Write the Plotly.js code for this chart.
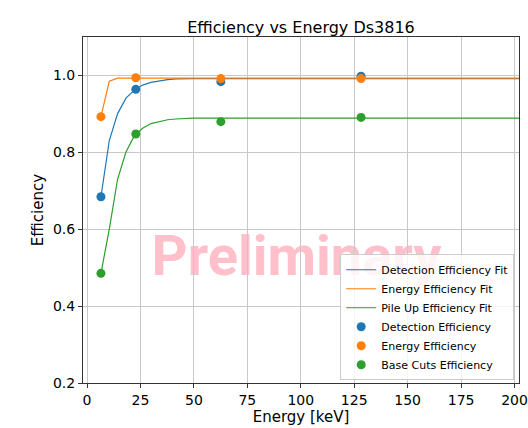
<!DOCTYPE html>
<html>
<head>
<meta charset="utf-8">
<script src="https://cdn.plot.ly/plotly-3.0.1.min.js"></script>
<style>
  html, body { margin: 0; padding: 0; background: #ffffff; }
  #chart { width: 528px; height: 428px; }
</style>
</head>
<body>
<div id="chart"></div>
<script>
// Measured efficiencies at each calibration energy (keV)
const energies = [6.5, 22.8, 62.6, 128.2];
const detectionEff = [0.684, 0.963, 0.983, 0.997];
const energyEff = [0.892, 0.993, 0.991, 0.991];
const baseCutsEff = [0.485, 0.847, 0.879, 0.890];

// Fitted curves, sampled on an energy grid
const fitEnergies = [6.5, 10.4, 14.3, 18.2, 22.1, 26.0, 29.9, 33.8, 37.7, 41.6, 45.5, 49.4,
                     60, 80, 100, 120, 140, 160, 180, 205];
const detectionFit = [0.684, 0.830, 0.900, 0.940, 0.961, 0.974, 0.981, 0.985, 0.988, 0.990, 0.991, 0.991,
                      0.991, 0.991, 0.991, 0.991, 0.991, 0.991, 0.991, 0.991];
const energyFit = [0.892, 0.984, 0.992, 0.992, 0.992, 0.992, 0.992, 0.992, 0.992, 0.992, 0.992, 0.992,
                   0.992, 0.992, 0.992, 0.992, 0.992, 0.992, 0.992, 0.992];
const pileUpFit = [0.485, 0.600, 0.730, 0.800, 0.842, 0.862, 0.874, 0.880, 0.884, 0.886, 0.887, 0.888,
                   0.888, 0.888, 0.888, 0.888, 0.888, 0.888, 0.888, 0.888];

const xTicks = [0, 25, 50, 75, 100, 125, 150, 175, 200];
const yTicks = [0.2, 0.4, 0.6, 0.8, 1.0];
const watermark = 'Preliminary';

const BLUE = '#1f77b4', ORANGE = '#ff7f0e', GREEN = '#2ca02c';
const FONT = 'DejaVu Sans, sans-serif';

const lineTrace = (y, name, color) => ({
  x: fitEnergies, y: y, name: name, type: 'scatter', mode: 'lines',
  line: { color: color, width: 1.2 }, hoverinfo: 'skip'
});
const pointTrace = (y, name, color) => ({
  x: energies, y: y, name: name, type: 'scatter', mode: 'markers',
  marker: { color: color, size: 9, symbol: 'circle' }
});

const data = [
  lineTrace(detectionFit, 'Detection Efficiency Fit', BLUE),
  lineTrace(energyFit, 'Energy Efficiency Fit', ORANGE),
  lineTrace(pileUpFit, 'Pile Up Efficiency Fit', GREEN),
  pointTrace(detectionEff, 'Detection Efficiency', BLUE),
  pointTrace(energyEff, 'Energy Efficiency', ORANGE),
  pointTrace(baseCutsEff, 'Base Cuts Efficiency', GREEN)
];

const axisCommon = {
  showline: true, mirror: true, linecolor: '#333333', linewidth: 1,
  ticks: 'outside', ticklen: 4, tickwidth: 1, tickcolor: '#333333',
  showgrid: true, gridcolor: '#c8c8c8', gridwidth: 1, zeroline: false,
  tickfont: { family: FONT, size: 14, color: '#000000' }
};

const layout = {
  width: 528, height: 428,
  margin: { l: 83, r: 9, t: 37, b: 45 },
  paper_bgcolor: '#ffffff', plot_bgcolor: '#ffffff',
  font: { family: FONT, color: '#000000' },
  title: {
    text: 'Efficiency vs Energy Ds3816',
    font: { family: FONT, size: 16, color: '#000000' },
    x: 0.5, xanchor: 'center', xref: 'paper',
    y: 1, yref: 'paper', yanchor: 'bottom', pad: { b: 4 }
  },
  xaxis: Object.assign({}, axisCommon, {
    range: [-1.9, 202.1], tickvals: xTicks, ticktext: xTicks.map(String),
    title: { text: 'Energy [keV]', font: { family: FONT, size: 15, color: '#000000' }, standoff: 4 }
  }),
  yaxis: Object.assign({}, axisCommon, {
    range: [0.2, 1.099], tickvals: yTicks, ticktext: yTicks.map(v => v.toFixed(1)),
    title: { text: 'Efficiency', font: { family: FONT, size: 15, color: '#000000' }, standoff: 5 }
  }),
  showlegend: true,
  legend: {
    x: 0.989, y: 0.008, xanchor: 'right', yanchor: 'bottom',
    bgcolor: 'rgba(255,255,255,0.8)', bordercolor: '#cccccc', borderwidth: 1,
    font: { family: FONT, size: 11, color: '#000000' },
    tracegroupgap: 0, itemwidth: 30
  },
  // Watermark sits under the grid, traces and legend
  shapes: [{
    type: 'rect', layer: 'below', xref: 'x', yref: 'y',
    x0: 40, x1: 156, y0: 0.45, y1: 0.63,
    line: { width: 0 }, fillcolor: 'rgba(0,0,0,0)',
    label: {
      text: watermark, textposition: 'middle center',
      font: { family: 'Roboto, sans-serif', size: 56, color: '#ffc0cb', weight: 'bold' }
    }
  }]
};

Plotly.newPlot('chart', data, layout, { displayModeBar: false, staticPlot: true });
</script>
</body>
</html>
